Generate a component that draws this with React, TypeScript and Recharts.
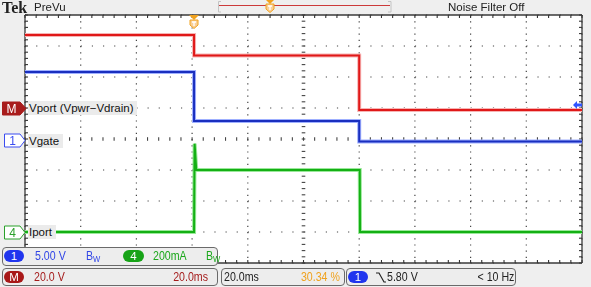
import { LineChart, Line, XAxis, YAxis, CartesianGrid, ReferenceLine } from "recharts";

// scope screen geometry
const W = 591;
const H = 287;
const PLOT = { left: 25, top: 15, right: 582, bottom: 263 };
const DIV_X = 10;
const DIV_Y = 8;
const MS_PER_DIV = 20;
const T_MAX = MS_PER_DIV * DIV_X;
const PX_Y = (PLOT.bottom - PLOT.top) / DIV_Y;
const MS_PER_PX = T_MAX / (PLOT.right - PLOT.left);
const DIV_PER_PX = DIV_Y / (PLOT.bottom - PLOT.top);

// channel settings (units per division, ground position in divisions)
const mathCh = { scale: 20, pos: 5.0 };
const ch1 = { scale: 5, pos: 3.94 };
const ch4 = { scale: 200, pos: 1.0 };
const triggerLevelV = 5.8;
const triggerPct = 30.34;

// captured waveforms
const stepTimes = [0, 60.7, 120, 200];
const vportV = [47.1, 33.9, -1.3, -1.3];
const vgateV = [11.1, 3.2, -0.1, -0.1];
const iportTimes = [0, 60.7, 60.9, 61.5, 120.2, 120.3, 200];
const iportMa = [0, 0, 570, 400, 400, 0, 0];

const FONT = "'Liberation Sans', Arial, sans-serif";
const BLUE = "#3246e6";
const GREEN = "#1ca81c";
const RED = "#a51c1c";
const ORANGE = "#f0a21e";

const vportData = stepTimes.map((t, i) => ({ t, y: vportV[i] / mathCh.scale + mathCh.pos }));
const vgateData = stepTimes.map((t, i) => ({ t, y: vgateV[i] / ch1.scale + ch1.pos }));
const iportData = iportTimes.map((t, i) => ({ t, y: iportMa[i] / ch4.scale + ch4.pos }));

const minorX = Array.from({ length: DIV_X * 5 + 1 }, (_, i) => (i * MS_PER_DIV) / 5);
const minorY = Array.from({ length: DIV_Y * 5 + 1 }, (_, i) => Math.round(i * 20) / 100);
const majorX = Array.from({ length: DIV_X - 1 }, (_, i) => (i + 1) * MS_PER_DIV).filter((x) => x !== T_MAX / 2);
const majorY = Array.from({ length: DIV_Y - 1 }, (_, i) => i + 1).filter((y) => y !== DIV_Y / 2);

const divToPx = (d: number) => PLOT.bottom - d * PX_Y;

function TrigMarker({ x, y }: { x: number; y: number }) {
  return (
    <svg width={12} height={14} style={{ position: "absolute", left: x - 6, top: y }}>
      <path d="M1,0 H11 L6,5 Z" fill={ORANGE} />
      <path d="M2,5 H10 V10 L6,13.5 L2,10 Z" fill="#f9cf96" stroke={ORANGE} strokeWidth={1} />
      <path d="M4,7 H8 M6,7 V11" stroke="#fff" strokeWidth={1.3} />
    </svg>
  );
}

function ChannelMarker({ y, text, label, color, filled, labelWidth }: { y: number; text: string; label: string; color: string; filled: boolean; labelWidth: number }) {
  return (
    <>
      <svg width={25} height={15} style={{ position: "absolute", left: 2, top: y - 7.5 }}>
        <path
          d={filled ? "M0.5,1 H18 L24,7.5 L18,14 H0.5 Z" : "M2.5,1 H18 L23,7.5 L18,14 H2.5 Z"}
          fill={filled ? color : "#fff"}
          stroke={color}
          strokeWidth={1}
        />
        <text x={filled ? 9.5 : 10.5} y={12} textAnchor="middle" fontSize={12} fontFamily={FONT} fill={filled ? "#fff" : color}>
          {text}
        </text>
      </svg>
      <div
        style={{
          position: "absolute",
          left: 28,
          top: y - 7,
          width: labelWidth,
          height: 14,
          lineHeight: "14px",
          background: "#ebebeb",
          fontFamily: FONT,
          fontSize: 11.5,
          color: "#111",
          paddingLeft: 1,
          whiteSpace: "nowrap",
        }}
      >
        {label}
      </div>
    </>
  );
}

function Pill({ x, text, color, width = 20 }: { x: number; text: string; color: string; width?: number }) {
  return (
    <div
      style={{
        position: "absolute",
        left: x,
        top: 2,
        width,
        height: 12,
        borderRadius: 7,
        background: color,
        color: "#fff",
        fontFamily: FONT,
        fontSize: 11.5,
        lineHeight: "12px",
        textAlign: "center",
      }}
    >
      {text}
    </div>
  );
}

function Txt({ x, right, text, color }: { x?: number; right?: number; text: React.ReactNode; color: string }) {
  return (
    <div
      style={{
        position: "absolute",
        left: x,
        right,
        top: 0,
        fontFamily: FONT,
        fontSize: 12.5,
        lineHeight: "16px",
        color,
        whiteSpace: "nowrap",
        transform: "scaleX(0.85)",
        transformOrigin: right !== undefined ? "right center" : "left center",
      }}
    >
      {text}
    </div>
  );
}

const bw = (
  <span>
    B<span style={{ fontSize: 9, verticalAlign: -2 }}>W</span>
  </span>
);

function Panel({ left, top, width, height, children }: { left: number; top: number; width: number; height: number; children: React.ReactNode }) {
  return (
    <div
      style={{
        position: "absolute",
        left,
        top,
        width,
        height,
        boxSizing: "border-box",
        border: "1px solid #6a6a6a",
        borderRadius: 4,
        background: "#ededed",
      }}
    >
      {children}
    </div>
  );
}

export default function App() {
  const trigY = divToPx(triggerLevelV / ch1.scale + ch1.pos);
  const trigX = PLOT.left + ((PLOT.right - PLOT.left) * triggerPct) / 100;
  const segX = 3 * MS_PER_PX;
  const segY = 3 * DIV_PER_PX;

  return (
    <div style={{ position: "fixed", left: 0, top: 0, width: W, height: H, background: "#efefef" }}>
      <LineChart
        width={W}
        height={H}
        margin={{ top: PLOT.top, left: PLOT.left, right: W - PLOT.right, bottom: H - PLOT.bottom }}
      >
        <CartesianGrid vertical={false} fill="#fff" fillOpacity={1} stroke="#444" strokeWidth={1.2} strokeDasharray="1.2 9.94" />
        <CartesianGrid horizontal={false} stroke="#444" strokeWidth={1.2} strokeDasharray="1.2 5" />
        <XAxis dataKey="t" type="number" domain={[0, T_MAX]} ticks={majorX} hide />
        <YAxis type="number" domain={[0, DIV_Y]} ticks={majorY} hide />

        {minorX.map((t) => (
          <ReferenceLine key={`tt${t}`} segment={[{ x: t, y: DIV_Y }, { x: t, y: DIV_Y - segY }]} stroke="#333" strokeWidth={1.1} />
        ))}
        {minorX.map((t) => (
          <ReferenceLine key={`tb${t}`} segment={[{ x: t, y: 0 }, { x: t, y: segY }]} stroke="#333" strokeWidth={1.1} />
        ))}
        {minorX.map((t) => (
          <ReferenceLine key={`tc${t}`} segment={[{ x: t, y: DIV_Y / 2 - segY * 0.6 }, { x: t, y: DIV_Y / 2 + segY * 0.6 }]} stroke="#444" strokeWidth={1.1} />
        ))}
        {minorY.map((d) => (
          <ReferenceLine key={`tl${d}`} segment={[{ x: 0, y: d }, { x: segX, y: d }]} stroke="#333" strokeWidth={1.1} />
        ))}
        {minorY.map((d) => (
          <ReferenceLine key={`tr${d}`} segment={[{ x: T_MAX - segX, y: d }, { x: T_MAX, y: d }]} stroke="#333" strokeWidth={1.1} />
        ))}
        {minorY.map((d) => (
          <ReferenceLine key={`tm${d}`} segment={[{ x: T_MAX / 2 - segX * 0.6, y: d }, { x: T_MAX / 2 + segX * 0.6, y: d }]} stroke="#444" strokeWidth={1.1} />
        ))}
        <ReferenceLine x={0} stroke="#3a3a3a" strokeWidth={1.3} />
        <ReferenceLine x={T_MAX} stroke="#3a3a3a" strokeWidth={1.3} />
        <ReferenceLine y={0} stroke="#3a3a3a" strokeWidth={1.3} />
        <ReferenceLine y={DIV_Y} stroke="#3a3a3a" strokeWidth={1.3} />

        <Line data={vportData} dataKey="y" type="stepAfter" stroke="#f7b4b4" strokeWidth={4} dot={false} isAnimationActive={false} />
        <Line data={vportData} dataKey="y" type="stepAfter" stroke="#e01818" strokeWidth={2} dot={false} isAnimationActive={false} />
        <Line data={vgateData} dataKey="y" type="stepAfter" stroke="#9fb0ff" strokeWidth={4} dot={false} isAnimationActive={false} />
        <Line data={vgateData} dataKey="y" type="stepAfter" stroke="#1a2fbf" strokeWidth={2} dot={false} isAnimationActive={false} />
        <Line data={iportData} dataKey="y" type="linear" stroke="#9ae89a" strokeWidth={4} dot={false} isAnimationActive={false} />
        <Line data={iportData} dataKey="y" type="linear" stroke="#14b014" strokeWidth={2} dot={false} isAnimationActive={false} />
      </LineChart>

      {/* header */}
      <div style={{ position: "absolute", left: 2, top: -1, fontFamily: "'Liberation Serif', serif", fontWeight: 700, fontSize: 16, color: "#222" }}>Tek</div>
      <div style={{ position: "absolute", left: 34, top: 0, fontFamily: FONT, fontSize: 11.5, lineHeight: "15px", color: "#222" }}>PreVu</div>
      <svg width={180} height={14} style={{ position: "absolute", left: 216, top: 0 }}>
        <path d="M5,1.5 H2.5 V12 H5" fill="none" stroke="#c4c4c4" strokeWidth={1} />
        <path d="M172,1.5 H175 V12 H172" fill="none" stroke="#c4c4c4" strokeWidth={1} />
        <line x1={3} x2={174} y1={5.5} y2={5.5} stroke="#cc3a3a" strokeWidth={1} />
      </svg>
      <TrigMarker x={270} y={-1} />
      <div style={{ position: "absolute", left: 448, top: 0, fontFamily: FONT, fontSize: 11.5, lineHeight: "15px", color: "#222" }}>Noise Filter Off</div>

      <TrigMarker x={trigX} y={PLOT.top} />
      <svg width={10} height={8} style={{ position: "absolute", left: PLOT.right - 9, top: trigY - 4 }}>
        <path d="M0,4 L4,0 V2.5 H9 V5.5 H4 V8 Z" fill="#2f55ff" />
      </svg>

      <ChannelMarker y={divToPx(mathCh.pos)} text="M" label="Vport (Vpwr−Vdrain)" color="#a81c1c" filled labelWidth={108} />
      <ChannelMarker y={divToPx(ch1.pos)} text="1" label="Vgate" color="#3a4cf0" filled={false} labelWidth={34} />
      <ChannelMarker y={divToPx(ch4.pos)} text="4" label="Iport" color="#2aa02a" filled={false} labelWidth={27} />

      {/* status bars */}
      <Panel left={2} top={247} width={216} height={19}>
        <Pill x={1} text="1" color="#2035ee" />
        <Txt x={32} text="5.00 V" color={BLUE} />
        <Txt x={83} text={bw} color={BLUE} />
        <Pill x={120} text="4" color="#17a317" width={21} />
        <Txt x={150} text="200mA" color={GREEN} />
        <Txt x={203} text={bw} color={GREEN} />
      </Panel>
      <Panel left={2} top={268} width={216} height={18}>
        <Pill x={1} text="M" color="#a81818" />
        <Txt x={31} text="20.0 V" color={RED} />
        <Txt right={9} text="20.0ms" color={RED} />
      </Panel>
      <Panel left={221} top={268} width={124} height={18}>
        <Txt x={2} text="20.0ms" color="#222" />
        <Txt right={4} text={`${triggerPct.toFixed(2)} %`} color={ORANGE} />
      </Panel>
      <Panel left={346} top={268} width={170} height={18}>
        <Pill x={1} text="1" color="#2035ee" />
        <svg width={10} height={12} style={{ position: "absolute", left: 29, top: 3 }}>
          <path d="M0,1 H3 L8,10 H10" fill="none" stroke="#222" strokeWidth={1.2} />
        </svg>
        <Txt x={40} text={`${triggerLevelV.toFixed(2)} V`} color="#222" />
        <Txt right={1} text="< 10 Hz" color="#222" />
      </Panel>
    </div>
  );
}
